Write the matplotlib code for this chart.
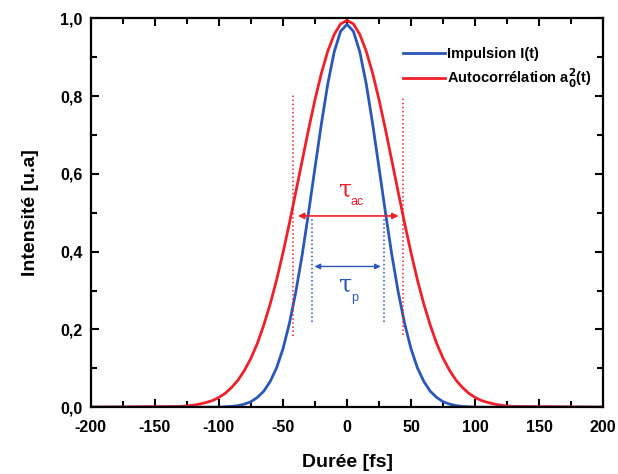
import matplotlib.pyplot as plt
from matplotlib.ticker import MultipleLocator, FuncFormatter

# Durée (fs) and intensities
time = [-200, -130, -125, -120, -115, -110, -105, -100, -95, -90, -85, -80, -75, -70,
        -65, -60, -55, -50, -45, -40, -35, -30, -25, -20, -15, -10, -5, 0,
        5, 10, 15, 20, 25, 30, 35, 40, 45, 50, 55, 60, 65, 70,
        75, 80, 85, 90, 95, 100, 105, 110, 115, 120, 125, 130, 200]

impulsion = [0, 0, 0, 0, 0, 0, 0, 0, 0.001, 0.002, 0.004, 0.008, 0.014, 0.025,
             0.041, 0.066, 0.101, 0.150, 0.215, 0.296, 0.392, 0.501, 0.616, 0.729, 0.832, 0.914, 0.967, 0.985,
             0.967, 0.914, 0.832, 0.729, 0.616, 0.501, 0.392, 0.296, 0.215, 0.150, 0.101, 0.066, 0.041, 0.025,
             0.014, 0.008, 0.004, 0.002, 0.001, 0, 0, 0, 0, 0, 0, 0, 0]

autocorr = [0, 0.002, 0.003, 0.005, 0.008, 0.012, 0.017, 0.025, 0.036, 0.051, 0.070, 0.095, 0.126, 0.164,
            0.211, 0.265, 0.327, 0.397, 0.473, 0.553, 0.634, 0.715, 0.791, 0.859, 0.916, 0.959, 0.986, 0.995,
            0.986, 0.959, 0.916, 0.859, 0.791, 0.715, 0.634, 0.553, 0.473, 0.397, 0.327, 0.265, 0.211, 0.164,
            0.126, 0.095, 0.070, 0.051, 0.036, 0.025, 0.017, 0.012, 0.008, 0.005, 0.003, 0.002, 0]

# FWHM markers
tau_ac = [-42, 43.5]
tau_p = [-27.5, 28.5]

plt.rcParams['font.family'] = ['Liberation Sans', 'DejaVu Sans']
plt.rcParams['font.weight'] = 'bold'
plt.rcParams['axes.unicode_minus'] = False

fig = plt.figure(figsize=(6.18, 4.74), dpi=100)
ax = fig.add_axes([0.147, 0.141, 0.829, 0.820])

blue = '#2a57b8'
red = '#f0202a'

ax.plot(time, autocorr, color=red, lw=2, label=r'Autocorrélation a$_0^2$(t)')
ax.plot(time, impulsion, color=blue, lw=2, label='Impulsion I(t)')

# dotted verticals
ax.vlines(tau_ac[0], 0.183, 0.808, colors=red, linestyles=':', lw=1.1)
ax.vlines(tau_ac[1], 0.185, 0.795, colors=red, linestyles=':', lw=1.1)
ax.vlines(tau_p, 0.22, 0.49, colors=blue, linestyles=':', lw=1.1)

# width arrows
ax.annotate('', xy=(tau_ac[0] + 1.5, 0.492), xytext=(tau_ac[1] - 1, 0.492),
            arrowprops=dict(arrowstyle='<|-|>', color=red, lw=1.2, mutation_scale=9))
ax.annotate('', xy=(tau_p[0], 0.362), xytext=(tau_p[1], 0.362),
            arrowprops=dict(arrowstyle='<|-|>', color=blue, lw=1, mutation_scale=8))
ax.text(-1, 0.56, 'τ', color=red, fontsize=17, ha='center', va='center',
        fontweight='normal', family='DejaVu Serif')
ax.text(8, 0.528, 'ac', color=red, fontsize=9, ha='center', va='center', fontweight='normal')
ax.text(-1, 0.315, 'τ', color=blue, fontsize=17, ha='center', va='center',
        fontweight='normal', family='DejaVu Serif')
ax.text(6, 0.282, 'p', color=blue, fontsize=9, ha='center', va='center', fontweight='normal')

ax.set_xlim(-200, 200)
ax.set_ylim(0, 1.0)
ax.xaxis.set_major_locator(MultipleLocator(50))
ax.xaxis.set_minor_locator(MultipleLocator(25))
ax.yaxis.set_major_locator(MultipleLocator(0.2))
ax.yaxis.set_minor_locator(MultipleLocator(0.1))
ax.yaxis.set_major_formatter(FuncFormatter(lambda v, p: f'{v:.1f}'.replace('.', ',')))
ax.tick_params(which='both', direction='in', top=True, right=True, width=1.5, labelsize=11.5)
ax.tick_params(which='major', length=6)
ax.tick_params(which='minor', length=4)
ax.tick_params(axis='x', pad=9)
ax.tick_params(axis='y', pad=6)
for s in ax.spines.values():
    s.set_linewidth(1.6)

ax.set_xlabel('Durée [fs]', fontsize=14, fontweight='bold', labelpad=14)
ax.set_ylabel('Intensité [u.a]', fontsize=14, fontweight='bold', labelpad=15)

handles, labels = ax.get_legend_handles_labels()
ax.legend(handles[::-1], labels[::-1], loc='upper right', frameon=False, fontsize=10.5,
          handlelength=2.9, handletextpad=0.15, labelspacing=0.4, borderaxespad=0.2,
          bbox_to_anchor=(0.995, 0.95))

fig.savefig('out.png', dpi=100)
